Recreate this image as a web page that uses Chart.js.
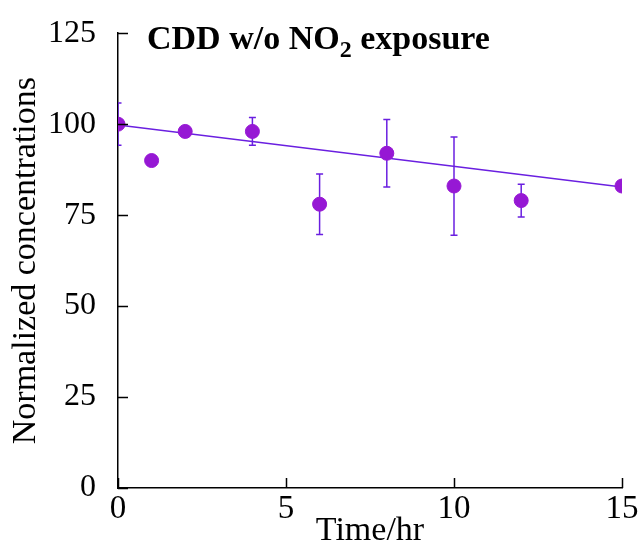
<!DOCTYPE html>
<html>
<head>
<meta charset="utf-8">
<script src="https://cdn.jsdelivr.net/npm/chart.js@4"></script>
<style>
    html, body { margin: 0; padding: 0; background: #fff; }
    #wrap { width: 640px; height: 552px; }
</style>
</head>
<body>
<div id="wrap"><canvas id="myChart" width="640" height="552"></canvas></div>
<script>
// measured points (time in hr, normalized concentration)
var times = [0, 1, 2, 4, 6, 8, 10, 12, 15]
var conc = [100, 90, 98, 98, 78, 92, 83, 79, 83]
var errs = [5.8, 0, 0, 3.8, 8.3, 9.3, 13.5, 4.5, 0]

// linear fit line end points
var fitX = [0, 15]
var fitY = [99.8, 82.7]

// axis ticks
var xTicks = [0, 5, 10, 15]
var yTicks = [0, 25, 50, 75, 100, 125]

var POINT_COLOR = "#9618d4"
var LINE_COLOR = "#6a1fe0"
var SERIF = "'Liberation Serif', 'Times New Roman', serif"

Chart.defaults.font.family = SERIF
Chart.defaults.color = "#000"

/*********************************************
 * error bars, drawn under the points
 *********************************************/
const errorBars = {
    id: "errorBars",
    beforeDatasetsDraw(chart) {
        const ctx = chart.ctx
        const xs = chart.scales.x, ys = chart.scales.y
        const area = chart.chartArea
        ctx.save()
        ctx.beginPath()
        ctx.rect(area.left, area.top - 5, area.right - area.left, area.bottom - area.top + 5)
        ctx.clip()
        ctx.strokeStyle = LINE_COLOR
        ctx.lineWidth = 1.5
        times.forEach((t, i) => {
            if (!errs[i]) return
            const px = xs.getPixelForValue(t)
            const top = ys.getPixelForValue(conc[i] + errs[i])
            const bot = ys.getPixelForValue(conc[i] - errs[i])
            ctx.beginPath()
            ctx.moveTo(px, top); ctx.lineTo(px, bot)
            ctx.moveTo(px - 3.5, top); ctx.lineTo(px + 3.5, top)
            ctx.moveTo(px - 3.5, bot); ctx.lineTo(px + 3.5, bot)
            ctx.stroke()
        })
        ctx.restore()
    }
}

/*********************************************
 * inward tick marks + title with subscript
 *********************************************/
const decorations = {
    id: "decorations",
    afterDraw(chart) {
        const ctx = chart.ctx
        const xs = chart.scales.x, ys = chart.scales.y
        const area = chart.chartArea
        ctx.save()
        ctx.strokeStyle = "#000"
        ctx.lineWidth = 1.5
        ctx.beginPath()
        xTicks.forEach(v => {
            const px = Math.round(xs.getPixelForValue(v)) + 0.5
            ctx.moveTo(px, area.bottom); ctx.lineTo(px, area.bottom - 10)
        })
        yTicks.forEach(v => {
            const py = Math.round(ys.getPixelForValue(v)) + 0.5
            ctx.moveTo(area.left, py); ctx.lineTo(area.left + 10, py)
        })
        ctx.stroke()

        // title: CDD w/o NO2 exposure
        ctx.fillStyle = "#000"
        ctx.textBaseline = "alphabetic"
        ctx.textAlign = "left"
        var x = 147, y = 49
        ctx.font = "bold 34px " + SERIF
        var part1 = "CDD w/o NO"
        ctx.fillText(part1, x, y)
        x += ctx.measureText(part1).width
        ctx.font = "bold 24px " + SERIF
        ctx.fillText("2", x, y + 8)
        x += ctx.measureText("2").width
        ctx.font = "bold 34px " + SERIF
        ctx.fillText(" exposure", x, y)
        ctx.restore()
    }
}

new Chart("myChart", {
    type: "scatter",
    data: {
        datasets: [{
            label: "data",
            data: times.map((t, i) => ({ x: t, y: conc[i] })),
            backgroundColor: POINT_COLOR,
            borderColor: POINT_COLOR,
            pointRadius: 7,
            pointHoverRadius: 7,
            showLine: false,
            order: 1
        }, {
            label: "fit",
            data: fitX.map((t, i) => ({ x: t, y: fitY[i] })),
            borderColor: LINE_COLOR,
            borderWidth: 1.5,
            pointRadius: 0,
            showLine: true,
            order: 2
        }]
    },
    options: {
        responsive: false,
        animation: false,
        layout: { padding: { top: 30, right: 18, left: 0, bottom: 0 } },
        plugins: {
            legend: { display: false },
            tooltip: { enabled: false }
        },
        scales: {
            x: {
                type: "linear",
                min: 0, max: 15,
                grid: { display: false },
                border: { display: true, color: "#000", width: 1.5 },
                ticks: { stepSize: 5, padding: -6, font: { size: 33 }, color: "#000" },
                title: { display: true, text: "Time/hr", font: { size: 34, lineHeight: 1 }, padding: { top: 0, bottom: 4 }, color: "#000" },
                afterFit(s) { s.height = 64 }
            },
            y: {
                type: "linear",
                min: 0, max: 125,
                grid: { display: false },
                border: { display: true, color: "#000", width: 1.5 },
                ticks: { stepSize: 25, padding: 14, font: { size: 32 }, color: "#000" },
                title: { display: true, text: "Normalized concentrations", font: { size: 34, lineHeight: 1 }, padding: { top: 9, bottom: 0 }, color: "#000" },
                afterFit(s) { s.width = 118 }
            }
        }
    },
    plugins: [errorBars, decorations]
});
</script>
</body>
</html>
